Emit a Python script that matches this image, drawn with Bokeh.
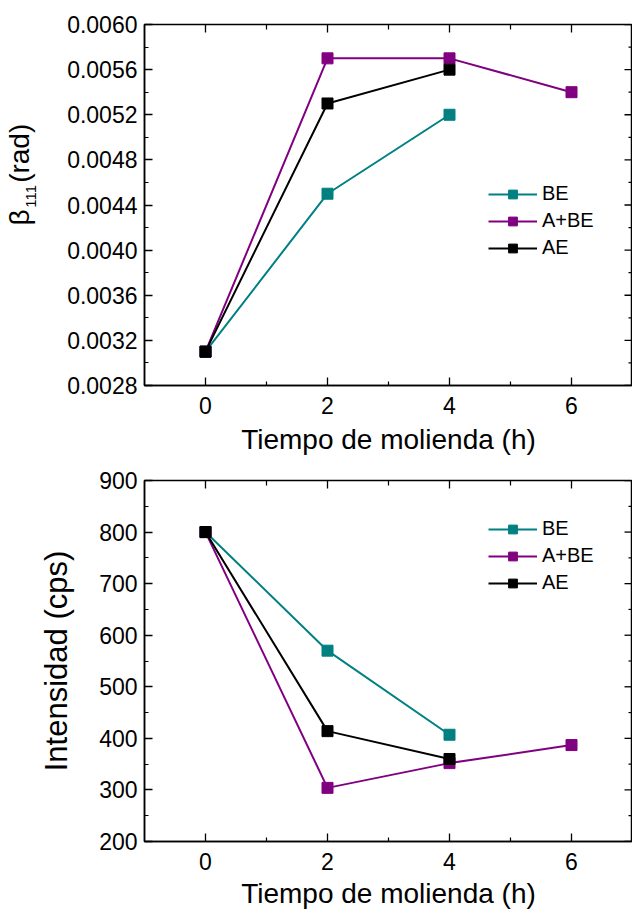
import math
from bokeh.plotting import figure
from bokeh.models import Range1d, FixedTicker, PrintfTickFormatter, Legend, LegendItem
from bokeh.core.properties import value
from bokeh.layouts import column, row
from bokeh.embed import file_html
from bokeh.resources import INLINE

FONT = "Liberation Sans"

# ---- data ----
series_names = ["BE", "A+BE", "AE"]
series_colors = ["#008080", "#800080", "#000000"]

hours_BE = [0, 2, 4]
hours_ABE = [0, 2, 4, 6]
hours_AE = [0, 2, 4]

beta_BE = [0.0031, 0.0045, 0.0052]
beta_ABE = [0.0031, 0.0057, 0.0057, 0.0054]
beta_AE = [0.0031, 0.0053, 0.0056]

int_BE = [800, 570, 407]
int_ABE = [800, 304, 352, 387]
int_AE = [800, 414, 360]

x_ticks = [0, 2, 4, 6]
x_minor = [1, 3, 5]
beta_ticks = [0.0028, 0.0032, 0.0036, 0.0040, 0.0044, 0.0048, 0.0052, 0.0056, 0.0060]
beta_minor = [0.0030, 0.0034, 0.0038, 0.0042, 0.0046, 0.0050, 0.0054, 0.0058]
int_ticks = [200, 300, 400, 500, 600, 700, 800, 900]
int_minor = [250, 350, 450, 550, 650, 750, 850]

x_label = "Tiempo de molienda (h)"
y1_label_parts = ["β", "111", "(rad)"]
y2_label = "Intensidad (cps)"

TOP_H = 465
BOT_H = 448
STRIP_W = 60


def style_axis(ax):
    ax.major_label_text_font = FONT
    ax.major_label_text_font_size = "23px"
    ax.major_label_text_color = "black"
    ax.axis_line_color = "black"
    ax.axis_line_width = 1.5
    ax.major_tick_line_color = "black"
    ax.minor_tick_line_color = "black"
    ax.major_tick_line_width = 1.3
    ax.minor_tick_line_width = 1.2
    ax.major_tick_in = 8
    ax.major_tick_out = 0
    ax.minor_tick_in = 4
    ax.minor_tick_out = 0
    ax.major_label_standoff = 7
    ax.axis_label_text_font = FONT
    ax.axis_label_text_font_style = "normal"
    ax.axis_label_text_color = "black"


def make_fig(width, height, left_b, y_lo, y_hi, yticks, yminor, fmt, top_b, bottom_b):
    p = figure(width=width, height=height, output_backend="svg", toolbar_location=None,
               x_range=Range1d(-1, 7), y_range=Range1d(y_lo, y_hi),
               min_border_left=left_b, min_border_right=0,
               min_border_top=top_b, min_border_bottom=bottom_b)
    p.xgrid.visible = False
    p.ygrid.visible = False
    p.outline_line_color = "black"
    p.outline_line_width = 1.5
    p.background_fill_color = "white"
    p.border_fill_color = "white"

    p.xaxis.ticker = FixedTicker(ticks=x_ticks, minor_ticks=x_minor)
    p.yaxis.ticker = FixedTicker(ticks=yticks, minor_ticks=yminor)
    p.yaxis.formatter = PrintfTickFormatter(format=fmt)
    for ax in p.xaxis + p.yaxis:
        style_axis(ax)
    p.xaxis.major_label_standoff = 11
    p.xaxis.axis_label = x_label
    p.xaxis.axis_label_text_font_size = "28px"

    # inward ticks on the top and right frame edges (half of each dash is clipped)
    x_end = p.x_range.end
    y_end = p.y_range.end
    p.scatter(x_ticks, [y_end] * len(x_ticks), marker="dash", size=16, angle=math.pi / 2,
              line_color="black", line_width=1.3)
    p.scatter(x_minor, [y_end] * len(x_minor), marker="dash", size=10, angle=math.pi / 2,
              line_color="black", line_width=1.2)
    p.scatter([x_end] * len(yticks), yticks, marker="dash", size=16,
              line_color="black", line_width=1.3)
    p.scatter([x_end] * len(yminor), yminor, marker="dash", size=8,
              line_color="black", line_width=1.2)
    return p


def add_series(p, xs_list, ys_list, legend_xy):
    items = []
    for name, color, xs, ys in zip(series_names, series_colors, xs_list, ys_list):
        l = p.line(xs, ys, line_color=color, line_width=2)
        s = p.scatter(xs, ys, marker="square", size=11, fill_color=color,
                      line_color=color, line_width=1)
        items.append(LegendItem(label=name, renderers=[l, s]))
    leg = Legend(items=items, location=legend_xy, padding=0, margin=0,
                 border_line_color=None, background_fill_alpha=0,
                 glyph_width=49, glyph_height=22, label_height=22, spacing=4,
                 label_standoff=5, label_text_font=FONT, label_text_font_size="20px",
                 label_text_color="black")
    p.add_layout(leg)


# ---- strip holding the top y-axis title (β with subscript 111) ----
strip = figure(width=STRIP_W, height=TOP_H, output_backend="svg", toolbar_location=None,
               x_range=Range1d(0, STRIP_W), y_range=Range1d(TOP_H, 0),
               x_axis_location=None, y_axis_location=None,
               min_border=0, min_border_left=0, min_border_right=0,
               min_border_top=0, min_border_bottom=0)
strip.grid.visible = False
strip.outline_line_color = None
strip.background_fill_color = "white"
strip.border_fill_color = "white"
title_pos_x = [19, 30, 19]
title_pos_y = [259, 236, 204]
title_sizes = ["28px", "15px", "28px"]
for t, tx, ty, ts in zip(y1_label_parts, title_pos_x, title_pos_y, title_sizes):
    strip.text(x=[tx], y=[ty], text=[t], angle=math.pi / 2, text_font=value(FONT),
               text_font_size=value(ts), text_align="left", text_baseline="alphabetic",
               text_color="black")

# ---- top chart ----
p1 = make_fig(632 - STRIP_W, TOP_H, 144 - STRIP_W, 0.0028, 0.0060,
              beta_ticks, beta_minor, "%.4f", 24, 80)
p1.xaxis[0].axis_label_standoff = 7
add_series(p1, [hours_BE, hours_ABE, hours_AE], [beta_BE, beta_ABE, beta_AE], (344, 126))

# ---- bottom chart ----
p2 = make_fig(632, BOT_H, 144, 200, 900, int_ticks, int_minor, "%d", 15, 72)
p2.xaxis[0].axis_label_standoff = 5
p2.yaxis[0].axis_label = y2_label
p2.yaxis[0].axis_label_text_font_size = "31px"
p2.yaxis[0].axis_label_standoff = 22
add_series(p2, [hours_BE, hours_ABE, hours_AE], [int_BE, int_ABE, int_AE], (344, 247))

layout = column(row(strip, p1, spacing=0), p2, spacing=0)
open("out.html", "w").write(file_html(layout, INLINE))
